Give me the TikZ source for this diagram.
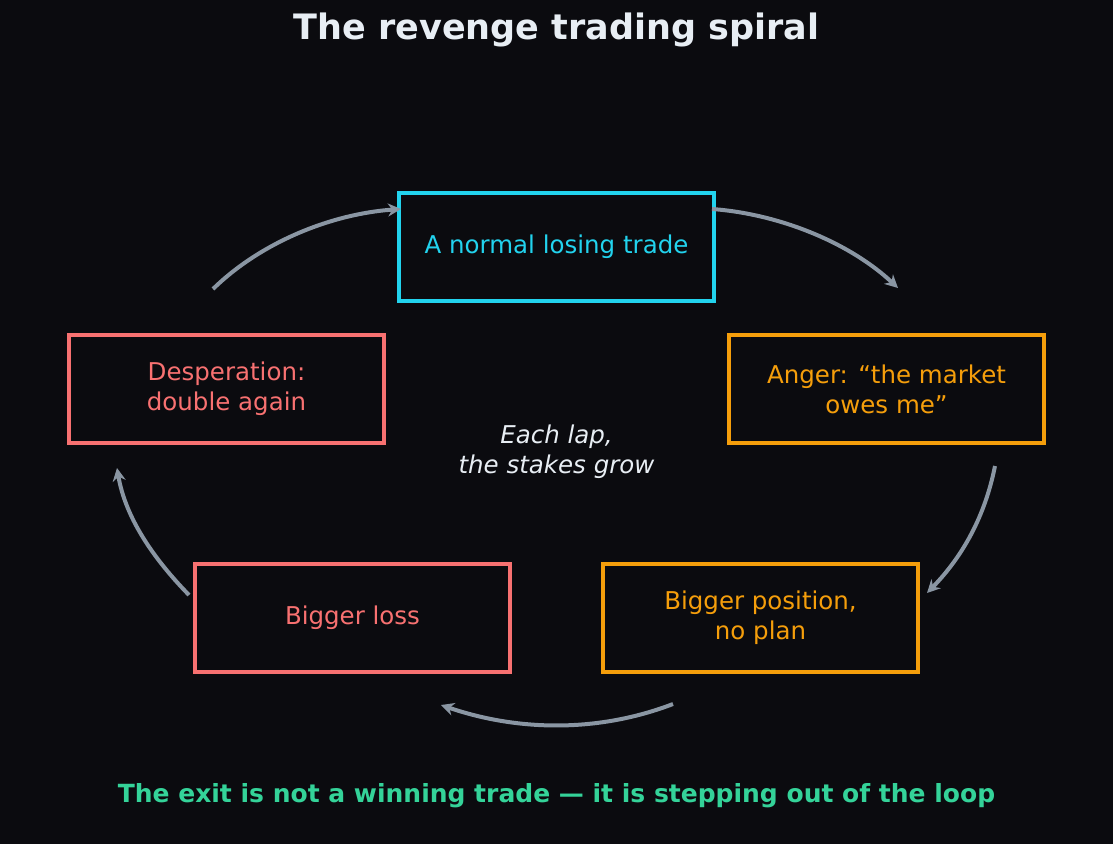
\documentclass[tikz,border=0pt]{standalone}
\usepackage{fontspec}
\setmainfont{DejaVu Sans}
\usetikzlibrary{arrows.meta}
\definecolor{bg}{HTML}{0B0B0F}
\definecolor{cyanc}{HTML}{22D3EE}
\definecolor{orangec}{HTML}{F59E0B}
\definecolor{redc}{HTML}{F87171}
\definecolor{greenc}{HTML}{34D399}
\definecolor{titlec}{HTML}{E8EEF4}
\definecolor{arrowc}{HTML}{8A96A3}
\begin{document}
\begin{tikzpicture}[x=1pt,y=-1pt,
  box/.style={draw=#1,text=#1,line width=4pt,minimum width=315pt,minimum height=108pt,align=center,font=\fontsize{24.5}{30}\selectfont,inner sep=0pt},
  arr/.style={draw=arrowc,line width=4pt,-{Stealth[length=13pt,width=13pt]}}]
\fill[bg] (0,0) rectangle (1113,844);
\useasboundingbox (0,0) rectangle (1113,844);
\node[text=titlec,font=\bfseries\fontsize{35}{40}\selectfont] (title) at (556.5,30) {The revenge trading spiral};
\node[box=cyanc] (a) at (556.5,247) {A normal losing trade};
\node[box=orangec] (b) at (886.5,389) {Anger: “the market\\owes me”};
\node[box=orangec] (c) at (760.5,618) {Bigger position,\\no plan};
\node[box=redc] (d) at (352.5,618) {Bigger loss};
\node[box=redc] (e) at (226.5,389) {Desperation:\\double again};
\node[text=titlec,align=center,font=\itshape\fontsize{24.5}{30}\selectfont] (m) at (556.5,452) {Each lap,\\the stakes grow};
\node[text=greenc,font=\bfseries\fontsize{25}{30}\selectfont] (f) at (556.5,796) {The exit is not a winning trade — it is stepping out of the loop};
\coordinate (a1) at (712,209); \coordinate (a2) at (898,288);
\coordinate (b1) at (995,466); \coordinate (b2) at (927,593);
\coordinate (c1) at (673,704); \coordinate (c2) at (441,705);
\coordinate (d1) at (189,595); \coordinate (d2) at (117,468);
\coordinate (e1) at (213,289); \coordinate (e2) at (401,209);
\draw[arr] (a1) .. controls (780,214) and (850,243) .. (a2);
\draw[arr] (b1) .. controls (985,516) and (963,556) .. (b2);
\draw[arr] (c1) .. controls (600,732) and (520,732) .. (c2);
\draw[arr] (d1) .. controls (150,555) and (125,515) .. (d2);
\draw[arr] (e1) .. controls (260,243) and (330,214) .. (e2);
\end{tikzpicture}
\end{document}
